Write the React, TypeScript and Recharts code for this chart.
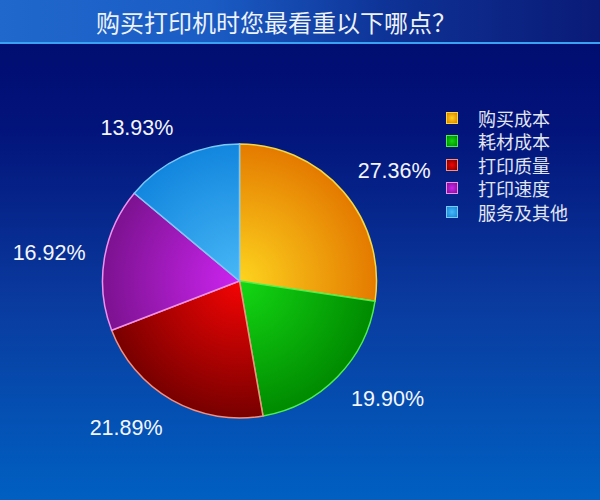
import { Cell, Legend, Pie, PieChart } from "recharts";

const categories = ["购买成本", "耗材成本", "打印质量", "打印速度", "服务及其他"];
const shares = [27.36, 19.9, 21.89, 16.92, 13.93];
const lightColors = ["#fdd41e", "#14d814", "#f40404", "#cc24f0", "#48b8f6"];
const darkColors = ["#e47a00", "#008a00", "#780000", "#7c1290", "#1286de"];
const edgeColors = ["#f4d840", "#4cf04c", "#f49080", "#f090f0", "#7cc8f8"];

const chartData = categories.map((name, i) => ({ name, value: shares[i] }));

const CX = 239.5;
const CY = 281;
const RADIUS = 137;
const RADIAN = Math.PI / 180;

const renderLabel = (props: any) => {
  const { midAngle, value } = props;
  const cos = Math.cos(-midAngle * RADIAN);
  const sin = Math.sin(-midAngle * RADIAN);
  const x = CX + 156 * cos;
  const y = CY + 169 * sin;
  return (
    <text
      x={x}
      y={y}
      fill="#f4f6fc"
      fontSize={21.5}
      fontFamily="'Liberation Sans', Arial, sans-serif"
      textAnchor={cos >= 0 ? "start" : "end"}
      dominantBaseline="central"
    >
      {`${value.toFixed(2)}%`}
    </text>
  );
};

const renderLegend = () => (
  <div style={{ display: "flex", flexDirection: "column" }}>
    {categories.map((name, i) => (
      <div key={name} style={{ display: "flex", alignItems: "center", height: 23.5 }}>
        <span
          style={{
            width: 10,
            height: 10,
            border: `1.5px solid ${edgeColors[i]}`,
            background: `radial-gradient(circle, ${lightColors[i]}, ${darkColors[i]})`,
            marginRight: 20,
          }}
        />
        <span style={{ color: "#e2e6f2", fontSize: 18, fontFamily: "'Noto Sans CJK SC', sans-serif" }}>
          {name}
        </span>
      </div>
    ))}
  </div>
);

export default function App() {
  return (
    <div
      style={{
        position: "absolute",
        left: 0,
        top: 0,
        width: 600,
        height: 500,
        overflow: "hidden",
        background: "linear-gradient(180deg, #000a6c 0%, #02137a 25%, #0a3a9e 60%, #0060c2 100%)",
      }}
    >
      <div
        style={{
          position: "absolute",
          left: 0,
          top: 0,
          width: 600,
          height: 42,
          background: "linear-gradient(90deg, #2068cc 0%, #1a5cc4 35%, #0e3296 65%, #0a1a76 100%)",
          borderBottom: "2px solid #3aa2f2",
        }}
      >
        <div
          style={{
            position: "absolute",
            left: 96,
            top: 4,
            color: "#eef2fa",
            fontSize: 24,
            fontFamily: "'Noto Sans CJK SC', sans-serif",
            whiteSpace: "nowrap",
          }}
        >
          购买打印机时您最看重以下哪点？
        </div>
      </div>
      <div style={{ position: "absolute", left: 0, top: 0 }}>
        <PieChart width={600} height={500} margin={{ top: 0, right: 0, bottom: 0, left: 0 }}>
          <defs>
            {categories.map((name, i) => (
              <radialGradient
                key={name}
                id={`slice-${i}`}
                gradientUnits="userSpaceOnUse"
                cx={CX}
                cy={CY}
                r={RADIUS}
              >
                <stop offset="0%" stopColor={lightColors[i]} />
                <stop offset="100%" stopColor={darkColors[i]} />
              </radialGradient>
            ))}
          </defs>
          <Pie
            data={chartData}
            dataKey="value"
            nameKey="name"
            cx={CX}
            cy={CY}
            outerRadius={RADIUS}
            startAngle={90}
            endAngle={-270}
            label={renderLabel}
            labelLine={false}
            isAnimationActive={false}
          >
            {chartData.map((entry, i) => (
              <Cell key={entry.name} fill={`url(#slice-${i})`} stroke={edgeColors[i]} strokeWidth={1.5} />
            ))}
          </Pie>
          <Legend
            content={renderLegend}
            layout="vertical"
            verticalAlign="top"
            align="right"
            wrapperStyle={{ position: "absolute", left: 446, top: 106, width: 150 }}
          />
        </PieChart>
      </div>
    </div>
  );
}
